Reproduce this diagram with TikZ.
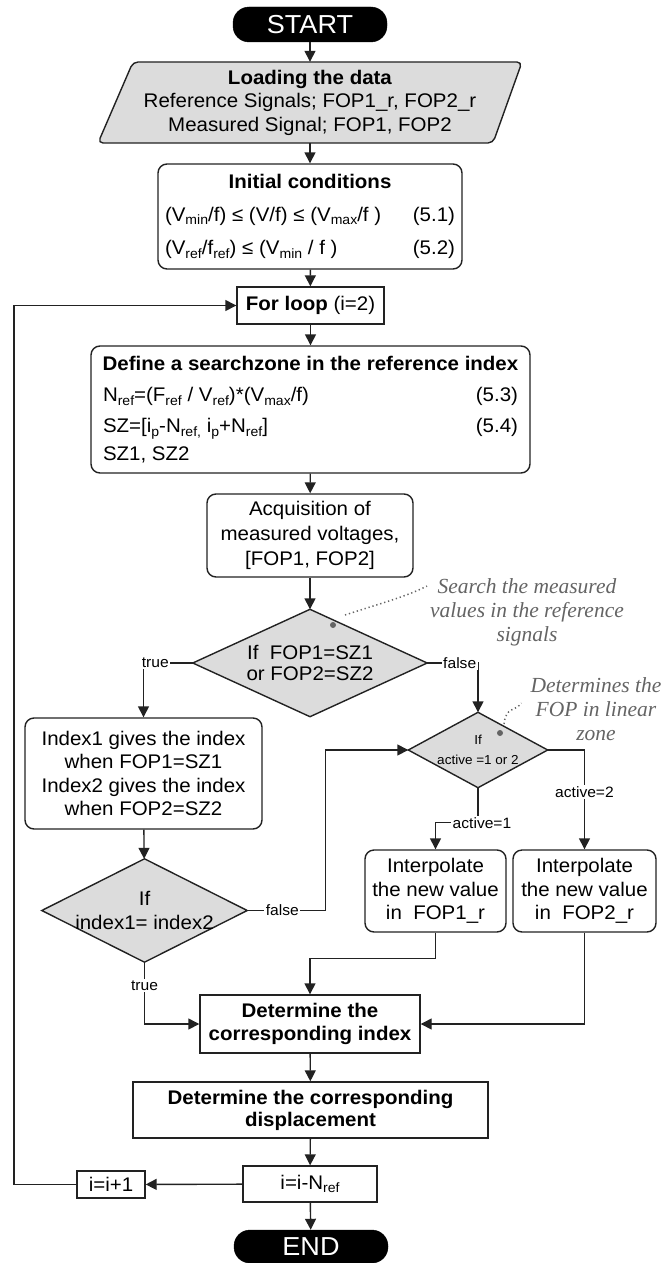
\documentclass[tikz,border=0pt]{standalone}
\usepackage{fontspec}
\setmainfont{Liberation Sans}[FakeStretch=1.04]
\newfontfamily\annfont{Liberation Serif}
\usetikzlibrary{arrows.meta,backgrounds,calc}
\definecolor{shade}{HTML}{DCDCDC}
\definecolor{anngray}{HTML}{646464}
\definecolor{ink}{HTML}{222222}
\newcommand\lsub[1]{\raisebox{-3.5pt}{\fontsize{13.5}{13.5}\selectfont #1}}
\newcommand\mainsz{\fontsize{19.7}{23.5}\selectfont}
\begin{document}
\begin{tikzpicture}[x=1pt,y=-1pt,
  line/.style={draw=ink,line width=1.4pt},
  arr/.style={line,-{Triangle[length=11pt,width=11pt]}},
  txt/.style={font=\mainsz,align=center,inner sep=0pt,text=black},
  rbox/.style={txt,draw=ink,line width=1.4pt,rounded corners=9pt,fill=white},
  sbox/.style={txt,draw=ink,line width=1.4pt,fill=white},
  term/.style={font=\fontsize{26}{26}\selectfont,text=white,fill=black,draw=black,rounded corners=16pt,inner sep=0pt,align=center},
  shapefill/.style={draw=ink,line width=1.4pt,fill=shade},
  lab/.style={font=\fontsize{15}{15}\selectfont,fill=white,inner sep=1.5pt,text=black},
  ann/.style={font=\annfont\itshape\fontsize{21.5}{24}\selectfont,text=anngray,align=center,inner sep=0pt},
  adot/.style={circle,fill=anngray,inner sep=0pt,minimum size=6pt},
  dotline/.style={draw=anngray,line width=1.5pt,dash pattern=on 1.3pt off 2.8pt}
]
\useasboundingbox (0,0) rectangle (663,1263);

% nodes
\node[term,minimum width=154pt,minimum height=35pt] (start) at (310,24.5) {START};
\node[txt,minimum width=395pt,minimum height=81pt] (load) at (310,102.5)
  {\textbf{Loading the data}\\Reference Signals; FOP1\_r, FOP2\_r\\Measured Signal; FOP1, FOP2};
\node[rbox,minimum width=304pt,minimum height=105pt] (init) at (310,216.5)
  {\textbf{Initial conditions}\\[9pt]
   \makebox[290pt]{(V\lsub{min}/f) ≤ (V/f) ≤ (V\lsub{max}/f )\hfill(5.1)}\\[10pt]
   \makebox[290pt]{(V\lsub{ref}/f\lsub{ref}) ≤ (V\lsub{min} / f )\hfill(5.2)}};
\node[sbox,minimum width=147pt,minimum height=37pt] (forl) at (310.5,305.5) {\textbf{For loop} (i=2)};
\node[rbox,minimum width=439pt,minimum height=127pt] (def) at (310.5,409.5)
  {\textbf{Define a searchzone in the reference index}\\[8pt]
   \makebox[415pt]{N\lsub{ref}=(F\lsub{ref} / V\lsub{ref})*(V\lsub{max}/f)\hfill(5.3)}\\[7.5pt]
   \makebox[415pt]{SZ=[i\lsub{p}-N\lsub{ref,} i\lsub{p}+N\lsub{ref}]\hfill(5.4)}\\[4pt]
   \makebox[415pt]{SZ1, SZ2\hfill}};
\node[rbox,minimum width=206pt,minimum height=83pt] (acq) at (310,535.5)
  {Acquisition of\\[1.5pt]measured voltages,\\[1.5pt]{[}FOP1, FOP2{]}};
\node[txt,minimum width=234pt,minimum height=107pt] (d1) at (310,663)
  {If~~FOP1=SZ1\\[-2.5pt]or FOP2=SZ2};
\node[rbox,minimum width=237pt,minimum height=111pt] (idx) at (143.5,773.5)
  {Index1 gives the index\\when FOP1=SZ1\\Index2 gives the index\\when FOP2=SZ2};
\node[txt,minimum width=205pt,minimum height=103pt] (d3) at (144.5,910.5)
  {If\\[0.5pt]index1= index2};
\node[txt,font=\fontsize{13}{20}\selectfont,minimum width=139pt,minimum height=75pt] (d2) at (478,750)
  {If\\active =1 or 2};
\node[rbox,minimum width=141pt,minimum height=82pt] (int1) at (435.5,891)
  {Interpolate\\the new value\\in~~FOP1\_r};
\node[rbox,minimum width=143pt,minimum height=82pt] (int2) at (584.5,891)
  {Interpolate\\the new value\\in~~FOP2\_r};
\node[sbox,minimum width=220pt,minimum height=58pt] (detidx) at (310,1024)
  {\textbf{Determine the}\\\textbf{corresponding index}};
\node[sbox,minimum width=355pt,minimum height=56pt] (detdisp) at (310.5,1110)
  {\textbf{Determine the corresponding}\\[-1.5pt]\textbf{displacement}};
\node[sbox,minimum width=134pt,minimum height=36pt] (inew) at (310,1184) {i=i-N\lsub{ref}};
\node[sbox,minimum width=68pt,minimum height=27pt] (iinc) at (111,1184.5) {i=i+1};
\node[term,minimum width=154pt,minimum height=33pt] (end) at (311,1246.5) {END};
\coordinate (loopx) at (14,700);

% filled shapes behind the text
\begin{scope}[on background layer]
  \draw[shapefill,rounded corners=5pt] (133,62) -- (522,62) -- (493,143) -- (98,143) -- cycle;
  \draw[shapefill] (d1.north) -- (d1.east) -- (d1.south) -- (d1.west) -- cycle;
  \draw[shapefill] (d2.north) -- (d2.east) -- (d2.south) -- (d2.west) -- cycle;
  \draw[shapefill] (d3.north) -- (d3.east) -- (d3.south) -- (d3.west) -- cycle;
\end{scope}

% connectors
\draw[arr] (start) -- (load);
\draw[arr] (load) -- (init);
\draw[arr] (init) -- (forl);
\draw[arr] (forl) -- (def);
\draw[arr] (def) -- (acq);
\draw[arr] (acq) -- (d1);
\draw[arr] (d1.west) -| node[lab,pos=0.38]{true} (idx.north);
\draw[arr] (d1.east) -| node[lab,pos=0.32]{false} (d2.north);
\draw[arr] (idx) -- (d3);
\draw[arr] (d3.east) -- node[lab,pos=0.45]{false} ++(78,0) |- (d2.west);
\draw[arr] (d2.east) -| node[lab,pos=0.71]{active=2} (int2.north);
\draw[arr] (d2.south) -- ++(0,35) node[lab,xshift=4pt]{active=1} -| (int1.north);
\draw[arr] (int1.south) -- ++(0,26) -| (detidx.north);
\draw[arr] (int2.south) |- (detidx.east);
\draw[arr] (d3.south) |- node[lab,pos=0.19]{true} (detidx.west);
\draw[arr] (detidx) -- (detdisp);
\draw[arr] (detdisp) -- (inew);
\draw[arr] (inew) -- (end);
\draw[arr] (inew) -- (iinc);
\draw[arr] (iinc.west) -- (iinc.west -| loopx) |- (forl.west);

% annotations
\node[ann] (ann1) at (527,612) {Search the measured\\values in the reference\\signals};
\node[adot] (dot1) at (333,625) {};
\draw[dotline] ($(dot1)+(12,-10)$) .. controls (385,602) and (405,597) .. ($(ann1.north west)+(-3,8)$);
\node[ann] (ann2) at (596,709) {Determines the\\FOP in linear\\zone};
\node[adot] (dot2) at (500,733) {};
\draw[dotline] ($(dot2)+(4,-9)$) .. controls (506,706) and (515,712) .. ($(ann2.west)+(-9,-6)$);
\end{tikzpicture}
\end{document}
